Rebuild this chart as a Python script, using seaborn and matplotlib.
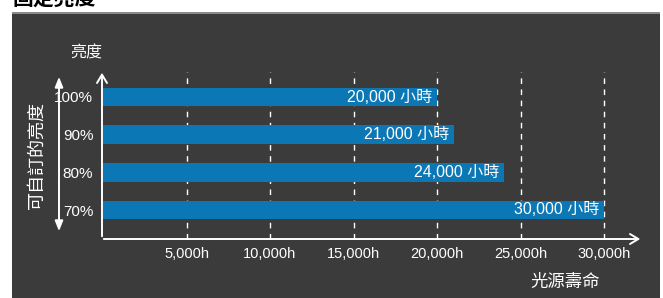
import matplotlib
matplotlib.use("Agg")
import matplotlib.pyplot as plt
import seaborn as sns
import pandas as pd
from matplotlib.patches import Rectangle

brightness = ["100%", "90%", "80%", "70%"]
hours = [20000, 21000, 24000, 30000]
bar_labels = ["20,000 小時", "21,000 小時", "24,000 小時", "30,000 小時"]
xticks = [5000, 10000, 15000, 20000, 25000, 30000]
xtick_labels = ["5,000h", "10,000h", "15,000h", "20,000h", "25,000h", "30,000h"]
title = "固定亮度"
y_axis_title = "亮度"
side_title = "可自訂的亮度"
x_axis_title = "光源壽命"

sns.set_theme(style="white")
plt.rcParams['font.family'] = ['Noto Sans CJK TC', 'DejaVu Sans']
latin = ['Liberation Sans', 'Noto Sans CJK TC', 'DejaVu Sans']

W, H = 663, 298
fig = plt.figure(figsize=(W / 100, H / 100), dpi=100)
fig.patch.set_facecolor("white")

# dark panel
fig.patches.append(Rectangle((12 / W, 0), (660 - 12) / W, (H - 12) / H,
                             transform=fig.transFigure, facecolor="#3b3b3b",
                             edgecolor="none", zorder=-2))
fig.patches.append(Rectangle((12 / W, (H - 13.5) / H), (660 - 12) / W, 1.5 / H,
                             transform=fig.transFigure, facecolor="#8a8a8a",
                             edgecolor="none", zorder=-1))

# axes placement in pixels
x0, x1 = 103, 640
ytop, ybot = 72, 239
ax = fig.add_axes([x0 / W, (H - ybot) / H, (x1 - x0) / W, (ybot - ytop) / H])
ax.set_facecolor("none")

df = pd.DataFrame({"brightness": brightness, "hours": hours})
sns.barplot(data=df, x="hours", y="brightness", orient="h", color="#0b78b5",
            saturation=1, width=0.5, linewidth=0, ax=ax, zorder=3)

px_per_unit = (604 - 103) / 30000
ax.set_xlim(0, (x1 - x0) / px_per_unit)
spacing = (210 - 97) / 3
ax.set_ylim((ybot - 97) / spacing, (ytop - 97) / spacing)

# dashed gridlines
ax.vlines(xticks, ax.get_ylim()[0], ax.get_ylim()[1], colors="white",
          linestyles=(0, (4, 4)), linewidth=1, zorder=1)

for s in ax.spines.values():
    s.set_visible(False)

ax.set_xticks(xticks)
ax.set_xticklabels(xtick_labels, color="white", fontsize=10.5, family=latin)
ax.tick_params(axis="x", length=0, pad=6)
ax.set_yticks(range(len(brightness)))
ax.set_yticklabels(brightness, color="white", fontsize=11, family=latin)
ax.tick_params(axis="y", length=0, pad=7)
ax.set_xlabel("")
ax.set_ylabel("")

# bar value labels
for i, (v, lab) in enumerate(zip(hours, bar_labels)):
    ax.text(v - 5 / px_per_unit, i, lab, color="white", fontsize=11.5,
            ha="right", va="center", zorder=4, family=latin)

# axis arrows (figure pixels, origin bottom-left)
arrow_kw = dict(arrowstyle="->,head_length=0.5,head_width=0.3", color="white", lw=1.4)
ax.annotate("", xy=(102, H - 70), xytext=(102, H - ybot), xycoords="figure pixels",
            textcoords="figure pixels", arrowprops=arrow_kw, annotation_clip=False)
ax.annotate("", xy=(643, H - ybot), xytext=(101, H - ybot), xycoords="figure pixels",
            textcoords="figure pixels", arrowprops=arrow_kw, annotation_clip=False)
# double arrow at left
ax.annotate("", xy=(59, H - 74), xytext=(59, H - 234), xycoords="figure pixels",
            textcoords="figure pixels",
            arrowprops=dict(arrowstyle="<|-|>,head_length=0.5,head_width=0.2",
                            color="white", lw=1.4), annotation_clip=False)

fig.text(86 / W, (H - 53) / H, y_axis_title, color="white", fontsize=11.5,
         ha="center", va="center")
fig.text(37 / W, (H - 155) / H, side_title, color="white", fontsize=13,
         ha="center", va="center", rotation=90)
fig.text(600 / W, (H - 282) / H, x_axis_title, color="white", fontsize=12.5,
         ha="right", va="center")
fig.text(13 / W, (H - 6) / H, title, color="black", fontsize=15,
         fontweight="bold", ha="left", va="baseline")

fig.savefig("out.png", dpi=100, facecolor="white")
